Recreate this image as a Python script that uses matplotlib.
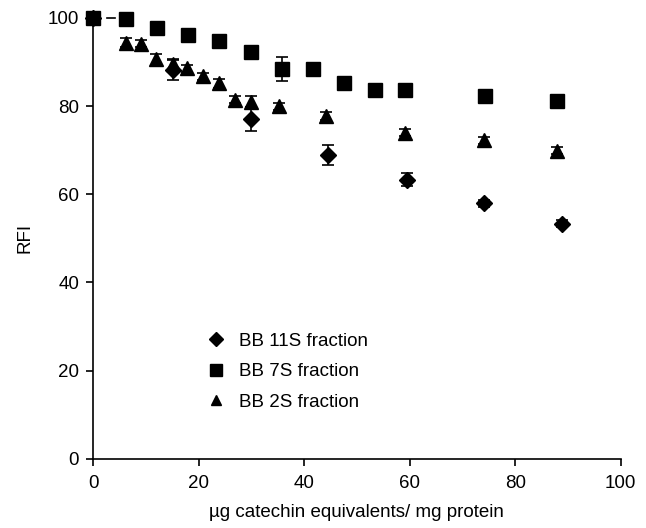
import matplotlib
matplotlib.use('Agg')
import matplotlib.pyplot as plt

plt.rcParams['font.family'] = ['Liberation Sans', 'DejaVu Sans']

# BB 11S fraction (diamonds)
x_11s = [0, 15.1, 29.9, 44.6, 59.4, 74.0, 88.8]
y_11s = [100, 88.3, 77.1, 68.9, 63.3, 58.0, 53.3]
e_11s = [0, 2.3, 2.7, 2.2, 1.5, 0.8, 0.8]

# BB 7S fraction (squares)
x_7s = [0, 6.3, 12.1, 18.0, 23.9, 29.9, 35.9, 41.7, 47.6, 53.4, 59.2, 74.2, 87.9]
y_7s = [100, 99.8, 97.7, 96.1, 94.8, 92.3, 88.4, 88.4, 85.3, 83.6, 83.6, 82.2, 81.1]
e_7s = [0.3, 0.3, 0.5, 0.5, 0.5, 1.0, 2.8, 0.5, 0.5, 0.5, 0.5, 0.5, 0.5]

# BB 2S fraction (triangles)
x_2s = [3.4, 6.3, 9.1, 12.0, 15.1, 17.9, 20.9, 23.9, 26.9, 29.9, 35.2, 44.1, 59.1, 74.0, 87.9]
y_2s = [100, 94.4, 94.2, 90.6, 89.5, 88.6, 86.8, 85.2, 81.4, 81.0, 80.0, 77.8, 74.0, 72.3, 69.9]
e_2s = [0, 1.0, 0.8, 1.2, 1.0, 0.8, 0.8, 1.0, 0.8, 1.2, 0.8, 0.9, 0.8, 0.8, 0.8]

fig = plt.figure(figsize=(6.46, 5.28), dpi=100)
ax = fig.add_axes([0.144, 0.131, 0.817, 0.835])

eb = dict(ls='none', color='black', ecolor='black', elinewidth=1.2, capsize=4,
          capthick=1.2, clip_on=False, zorder=3)
ax.errorbar(x_11s, y_11s, yerr=e_11s, marker='D', markersize=8.5, label='BB 11S fraction', **eb)
ax.errorbar(x_7s, y_7s, yerr=e_7s, marker='s', markersize=10, label='BB 7S fraction', **eb)
ax.errorbar(x_2s[1:], y_2s[1:], yerr=e_2s[1:], marker='^', markersize=9.5, label='BB 2S fraction', **eb)
# short dash near the origin
ax.plot([x_2s[0] - 0.7, x_2s[0] + 0.7], [y_2s[0], y_2s[0]], color='black', lw=1.2, clip_on=False)

ax.set_xlim(0, 100)
ax.set_ylim(0, 100)
ax.set_xticks(range(0, 101, 20))
ax.set_yticks(range(0, 101, 20))
for s in ['top', 'right']:
    ax.spines[s].set_visible(False)
for s in ['left', 'bottom']:
    ax.spines[s].set_linewidth(1.2)
ax.tick_params(direction='out', length=5, width=1.2, labelsize=13.5)
ax.tick_params(axis='x', pad=7)
ax.tick_params(axis='y', pad=5)
ax.set_xlabel('µg catechin equivalents/ mg protein', fontsize=13.5, labelpad=8)
ax.set_ylabel('RFI', fontsize=13.5, labelpad=10)

handles, labels = ax.get_legend_handles_labels()
handles = [h[0] for h in handles]
ax.legend(handles, labels, loc='upper left', bbox_to_anchor=(0.18, 0.325), frameon=False,
          fontsize=13.5, handletextpad=0.6, labelspacing=0.72, handlelength=1.2,
          markerscale=0.8)

fig.savefig('out.png', dpi=100)
